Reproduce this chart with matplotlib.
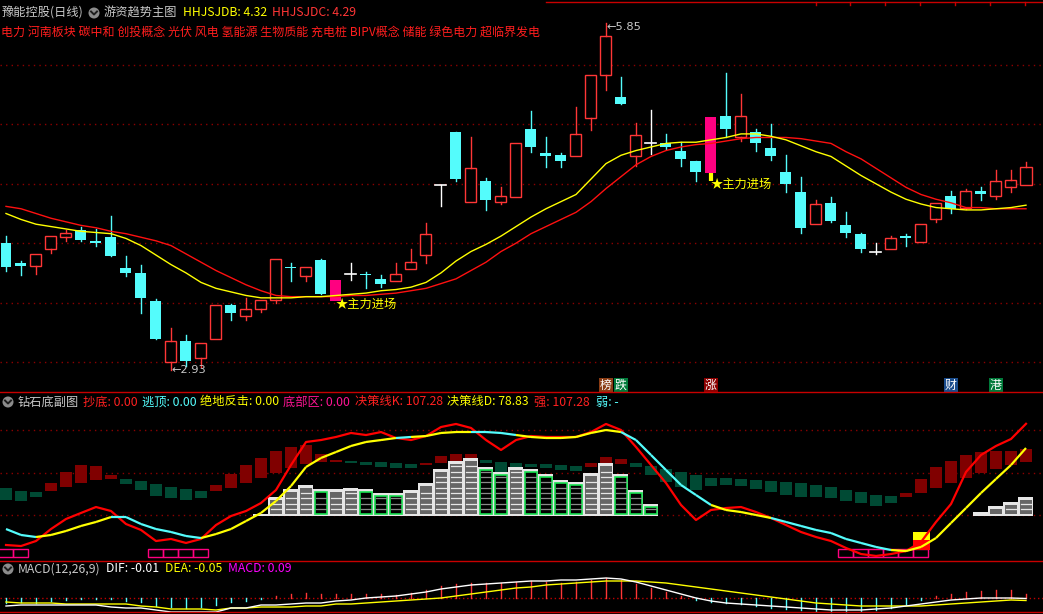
import matplotlib
matplotlib.use('Agg')
import matplotlib.pyplot as plt
from matplotlib.patches import Rectangle, Circle
from matplotlib.lines import Line2D
from matplotlib.transforms import IdentityTransform

plt.rcParams['font.family'] = ['Noto Sans CJK SC', 'DejaVu Sans']
plt.rcParams['lines.scale_dashes'] = False

# ---------------- data ----------------
stock_name = '豫能控股(日线)'
main_title = '游资趋势主图'
concepts = '电力 河南板块 碳中和 创投概念 光伏 风电 氢能源 生物质能 充电桩 BIPV概念 储能 绿色电力 超临界发电'
ma_names = ['HHJSJDB', 'HHJSJDC']
ma_last = [4.32, 4.29]

opens = [4.00, 3.83, 3.81, 3.95, 4.05, 4.11, 4.02, 4.05, 3.79, 3.75,
         3.51, 3.00, 3.18, 3.03, 3.19, 3.48, 3.39, 3.45, 3.52, 3.80,
         3.72, 3.86, 3.51, 3.74, 3.74, 3.70, 3.68, 3.78, 3.90, 4.49,
         4.94, 4.35, 4.52, 4.35, 4.39, 4.96, 4.76, 4.74, 4.73, 5.05,
         5.42, 5.23, 4.73, 4.84, 4.84, 4.78, 4.69, 4.59, 5.07, 4.89,
         4.94, 4.80, 4.60, 4.43, 4.16, 4.34, 4.15, 4.08, 3.93, 3.95,
         4.06, 4.01, 4.20, 4.40, 4.30, 4.44, 4.40, 4.47, 4.49]
highs = [4.06, 3.85, 3.91, 4.06, 4.11, 4.14, 4.12, 4.23, 3.89, 3.82,
         3.53, 3.29, 3.23, 3.16, 3.48, 3.49, 3.54, 3.52, 3.87, 3.83,
         3.80, 3.87, 3.69, 3.83, 3.76, 3.73, 3.83, 3.95, 4.17, 4.49,
         4.94, 4.89, 4.55, 4.47, 4.84, 5.11, 4.89, 4.76, 5.15, 5.42,
         5.85, 5.40, 5.01, 5.12, 4.92, 4.85, 4.69, 5.06, 5.43, 5.26,
         4.96, 5.00, 4.74, 4.56, 4.36, 4.39, 4.26, 4.09, 4.00, 4.06,
         4.08, 4.16, 4.34, 4.44, 4.46, 4.47, 4.62, 4.62, 4.68]
lows = [3.77, 3.73, 3.74, 3.92, 4.02, 4.02, 3.98, 3.89, 3.72, 3.41,
        3.19, 2.93, 2.97, 2.96, 3.19, 3.35, 3.35, 3.42, 3.50, 3.68,
        3.68, 3.57, 3.51, 3.69, 3.62, 3.63, 3.68, 3.78, 3.83, 4.31,
        4.52, 4.35, 4.28, 4.33, 4.39, 4.77, 4.64, 4.64, 4.73, 4.95,
        5.29, 5.17, 4.65, 4.75, 4.79, 4.65, 4.52, 4.52, 4.89, 4.86,
        4.78, 4.70, 4.43, 4.09, 4.16, 4.18, 4.05, 3.93, 3.91, 3.95,
        3.98, 4.01, 4.18, 4.25, 4.29, 4.36, 4.37, 4.43, 4.49]
closes = [3.80, 3.81, 3.91, 4.06, 4.09, 4.03, 4.00, 3.89, 3.75, 3.54,
          3.19, 3.18, 3.01, 3.16, 3.48, 3.41, 3.45, 3.52, 3.87, 3.79,
          3.80, 3.57, 3.69, 3.74, 3.73, 3.66, 3.74, 3.84, 4.08, 4.49,
          4.54, 4.63, 4.36, 4.40, 4.84, 4.81, 4.73, 4.69, 4.92, 5.42,
          5.74, 5.17, 4.91, 4.84, 4.81, 4.71, 4.60, 5.06, 4.96, 5.07,
          4.84, 4.73, 4.50, 4.13, 4.33, 4.19, 4.09, 3.95, 3.93, 4.04,
          4.04, 4.16, 4.34, 4.29, 4.44, 4.41, 4.52, 4.53, 4.64]

ma_yellow = [4.25, 4.20, 4.16, 4.14, 4.12, 4.10, 4.09, 4.08, 4.04, 3.98,
             3.90, 3.82, 3.75, 3.67, 3.62, 3.59, 3.56, 3.54, 3.54, 3.54,
             3.55, 3.55, 3.56, 3.57, 3.58, 3.60, 3.61, 3.63, 3.67, 3.75,
             3.85, 3.93, 3.99, 4.06, 4.14, 4.22, 4.29, 4.35, 4.41, 4.54,
             4.67, 4.74, 4.78, 4.81, 4.84, 4.85, 4.85, 4.87, 4.89, 4.92,
             4.92, 4.90, 4.87, 4.82, 4.77, 4.73, 4.65, 4.57, 4.50, 4.43,
             4.37, 4.33, 4.30, 4.29, 4.28, 4.28, 4.29, 4.30, 4.32]
ma_red = [4.31, 4.29, 4.25, 4.21, 4.18, 4.15, 4.13, 4.10, 4.08, 4.05,
          4.02, 3.98, 3.91, 3.84, 3.77, 3.71, 3.65, 3.60, 3.56, 3.55,
          3.55, 3.55, 3.55, 3.56, 3.56, 3.57, 3.58, 3.60, 3.62, 3.66,
          3.70, 3.77, 3.84, 3.93, 4.00, 4.08, 4.14, 4.20, 4.26, 4.35,
          4.46, 4.56, 4.66, 4.73, 4.78, 4.81, 4.83, 4.84, 4.86, 4.88,
          4.89, 4.89, 4.89, 4.88, 4.86, 4.84, 4.77, 4.71, 4.63, 4.55,
          4.47, 4.41, 4.37, 4.34, 4.30, 4.30, 4.29, 4.29, 4.29]

entry_idx = [22, 47]
entry_label = '主力进场'
high_idx, high_val = 40, 5.85
low_idx, low_val = 11, 2.93
event_idx = [40, 41, 47, 63, 66]
event_text = ['榜', '跌', '涨', '财', '港']
event_bg = ['#8a3c14', '#007a3a', '#8c0000', '#1a4c8c', '#007a3a']

# sub chart 钻石底副图
sub_title = '钻石底副图'
sub_labels = ['抄底: 0.00', '逃顶: 0.00', '绝地反击: 0.00', '底部区: 0.00',
              '决策线K: 107.28', '决策线D: 78.83', '强: 107.28', '弱: -']
line_k = [-35.3, -36.5, -30.6, -16.5, -4.7, 2.4, 9.4, 4.7, -10.6, -17.6,
          -30.6, -28.2, -32.9, -28.2, -11.8, -1.2, 4.7, 14.1, 29.4, 58.8,
          85.9, 88.2, 91.8, 96.5, 94.1, 97.6, 90.6, 88.2, 92.9, 103.5,
          107.1, 102.4, 88.2, 76.5, 88.2, 92.9, 91.8, 91.8, 91.8, 97.6,
          107.1, 100.0, 80.0, 58.8, 37.6, 11.8, -5.9, 5.9, 8.2, 9.4,
          3.5, -3.5, -11.8, -20.0, -25.9, -30.6, -38.8, -45.9, -48.2, -45.9,
          -42.4, -31.8, -8.2, 12.9, 50.6, 70.6, 81.2, 89.4, 107.3]
line_d = [-16.5, -23.5, -25.9, -23.5, -18.8, -12.9, -8.2, -2.4, -2.4, -10.6,
          -16.5, -20.0, -24.7, -27.1, -22.4, -16.5, -7.1, 2.4, 16.5, 34.1,
          56.5, 67.1, 74.1, 81.2, 85.9, 88.2, 90.6, 91.8, 92.9, 96.5,
          97.6, 97.6, 97.6, 96.5, 94.1, 91.8, 90.6, 90.6, 91.8, 96.5,
          100.0, 97.6, 88.2, 70.6, 52.9, 35.3, 23.5, 11.8, 5.9, 3.5,
          0.0, -3.5, -8.2, -12.9, -17.6, -21.2, -28.2, -32.9, -37.6, -41.2,
          -42.4, -37.6, -27.1, -9.4, 8.2, 25.9, 42.4, 58.8, 78.8]
box_top = [31.8, 28.2, 27.1, 37.6, 50.6, 58.8, 57.6, 47.1, 42.4, 40.0,
           36.5, 32.9, 30.6, 28.2, 35.3, 48.2, 58.8, 67.1, 75.3, 80.0,
           82.4, 71.8, 64.7, 63.5, 62.4, 62.4, 61.2, 60.0, 61.2, 69.4,
           71.8, 71.8, 64.7, 62.4, 61.2, 60.0, 60.0, 58.8, 57.6, 61.2,
           68.2, 65.9, 61.2, 57.6, 54.1, 50.6, 47.1, 43.5, 43.5, 42.4,
           41.2, 40.0, 38.8, 37.6, 35.3, 32.9, 29.4, 27.1, 23.5, 22.4,
           25.9, 42.4, 56.5, 63.5, 70.6, 74.1, 75.3, 75.3, 77.6]
box_bot = [17.6, 16.5, 21.2, 28.2, 32.9, 37.6, 41.2, 42.4, 36.5, 29.4,
           22.4, 20.0, 17.6, 20.0, 28.2, 31.8, 37.6, 43.5, 49.4, 55.3,
           60.0, 62.4, 62.4, 61.2, 58.8, 56.5, 55.3, 55.3, 58.8, 61.2,
           62.4, 64.7, 61.2, 50.6, 54.1, 56.5, 55.3, 52.9, 51.8, 56.5,
           58.8, 60.0, 56.5, 47.1, 38.8, 32.9, 29.4, 34.1, 35.3, 34.1,
           30.6, 27.1, 23.5, 21.2, 21.2, 20.0, 16.5, 14.1, 10.6, 14.1,
           21.2, 25.9, 31.8, 37.6, 43.5, 49.4, 54.1, 58.8, 62.4]
box_up = [0, 0, 0, 1, 1, 1, 1, 1, 0, 0,
          0, 0, 0, 0, 1, 1, 1, 1, 1, 1,
          1, 1, 1, 0, 0, 0, 0, 0, 1, 1,
          1, 1, 0, 0, 0, 0, 0, 0, 0, 1,
          1, 1, 0, 0, 0, 0, 0, 0, 0, 0,
          0, 0, 0, 0, 0, 0, 0, 0, 0, 0,
          1, 1, 1, 1, 1, 1, 1, 1, 1]
# stepped "building" columns: index, height, kind (s = slab, w = grey, g = green)
bld_idx = [17, 18, 19, 20, 21, 22, 23, 24, 25, 26, 27, 28, 29, 30, 31,
           32, 33, 34, 35, 36, 37, 38, 39, 40, 41, 42, 43, 65, 66, 67, 68]
bld_top = [1.2, 21.2, 30.6, 35.3, 30.6, 30.6, 31.8, 30.6, 25.9, 25.9, 29.4,
           37.6, 54.1, 63.5, 67.1, 56.5, 50.6, 56.5, 54.1, 48.2, 41.2, 38.8,
           49.4, 61.2, 48.2, 29.4, 12.9, 3.5, 10.6, 15.3, 21.2]
bld_kind = ['s', 'w', 'w', 'w', 'g', 'w', 'w', 'g', 'g', 'g', 'w',
            'w', 'w', 'w', 'w', 'g', 'g', 'w', 'g', 'g', 'g', 'g',
            'w', 'w', 'g', 'g', 'g', 's', 'w', 'w', 'w']
bottom_zone_idx = [0, 1, 10, 11, 12, 13, 56, 57, 58, 59, 60, 61]
rebound_idx = 61

# MACD panel
macd_title = 'MACD(12,26,9)'
macd_labels = ['DIF: -0.01', 'DEA: -0.05', 'MACD: 0.09']
dif = [-0.16, -0.14, -0.14, -0.14, -0.14, -0.14, -0.14, -0.18, -0.20, -0.20,
       -0.24, -0.28, -0.28, -0.28, -0.28, -0.20, -0.20, -0.14, -0.14, -0.12,
       -0.10, -0.10, -0.06, -0.04, 0.00, 0.02, 0.04, 0.08, 0.12, 0.18,
       0.22, 0.26, 0.28, 0.30, 0.32, 0.34, 0.34, 0.36, 0.36, 0.38,
       0.40, 0.38, 0.32, 0.24, 0.16, 0.08, 0.00, -0.06, -0.10, -0.12,
       -0.14, -0.16, -0.18, -0.20, -0.22, -0.24, -0.24, -0.24, -0.22, -0.20,
       -0.16, -0.12, -0.08, -0.04, -0.02, 0.00, 0.00, 0.00, -0.01]
dea = [-0.08, -0.10, -0.10, -0.10, -0.12, -0.12, -0.12, -0.12, -0.12, -0.16,
       -0.18, -0.22, -0.22, -0.22, -0.24, -0.20, -0.20, -0.18, -0.18, -0.18,
       -0.16, -0.16, -0.12, -0.12, -0.10, -0.08, -0.06, -0.04, -0.02, 0.00,
       0.04, 0.08, 0.12, 0.16, 0.20, 0.22, 0.26, 0.28, 0.30, 0.32,
       0.34, 0.34, 0.34, 0.32, 0.30, 0.26, 0.22, 0.18, 0.14, 0.10,
       0.06, 0.02, -0.02, -0.06, -0.10, -0.12, -0.14, -0.16, -0.16, -0.16,
       -0.16, -0.16, -0.14, -0.12, -0.10, -0.08, -0.06, -0.04, -0.05]
macd = [-0.10, -0.07, -0.10, -0.05, -0.03, -0.01, -0.02, -0.01, -0.05, -0.07,
        -0.15, -0.17, -0.19, -0.17, -0.13, -0.07, -0.05, -0.01, 0.05, 0.09,
        0.11, 0.09, 0.09, 0.09, 0.09, 0.09, 0.07, 0.10, 0.16, 0.24,
        0.28, 0.30, 0.30, 0.30, 0.32, 0.34, 0.32, 0.30, 0.32, 0.36,
        0.40, 0.36, 0.28, 0.20, 0.12, 0.04, -0.04, -0.08, -0.10, -0.12,
        -0.16, -0.20, -0.22, -0.24, -0.26, -0.28, -0.28, -0.26, -0.24, -0.20,
        -0.12, -0.04, 0.04, 0.08, 0.12, 0.14, 0.16, 0.16, 0.09]

# ---------------- style ----------------
W, H = 1043, 614
BG = 'black'
RED = '#ff3636'
CYAN = '#54fcfc'
YEL = '#ffff00'
MAG = '#ff0080'
GRID = '#8c0000'
GREY = '#c8c8c8'
FS = 8.8

fig = plt.figure(figsize=(W / 100, H / 100), dpi=100)
fig.patch.set_facecolor(BG)
n = len(closes)
xs = list(range(n))


def make_ax(top, bottom, ylo, yhi):
    ax = fig.add_axes([0, 1 - bottom / H, 1, (bottom - top) / H])
    ax.set_facecolor(BG)
    ax.set_xlim(-0.4, (W - 6) / 15)
    ax.set_ylim(ylo, yhi)
    ax.axis('off')
    return ax


def ftext(x, y, s, color, size=FS, **kw):
    fig.text(x / W, 1 - y / H, s, color=color, fontsize=size, va='center', ha='left', **kw)


def icon(x, y):
    fig.patches.append(Circle((x, H - y), 5.5, transform=IdentityTransform(),
                              facecolor='#8c8c8c', edgecolor='none'))
    fig.lines.append(Line2D([x - 3, x, x + 3], [H - y + 1.5, H - y - 1.5, H - y + 1.5],
                            transform=IdentityTransform(), color='#1e1e1e', lw=1.4))


def hline(y, x0=0, x1=W, color='#c80000'):
    fig.lines.append(Line2D([x0 / W, x1 / W], [1 - y / H, 1 - y / H],
                            transform=fig.transFigure, color=color, lw=1.0))


# ---------------- main panel ----------------
P0, PPU = 3.0, 118.8   # price 3.0 at pixel 362, 118.8 px per unit
ax = make_ax(0, 392, P0 - (392 - 362) / PPU, P0 + 362 / PPU)
for g in [3.0, 3.5, 4.0, 4.5, 5.0, 5.5]:
    ax.axhline(g, color=GRID, lw=1.0, ls=(0, (1, 3)))

bw = 11 / 15
for i in xs:
    o, h, l, c = opens[i], highs[i], lows[i], closes[i]
    if i in entry_idx:
        ax.add_patch(Rectangle((i - bw / 2, min(o, c)), bw, abs(c - o), fc=MAG, ec='none', zorder=3))
        if l < min(o, c):
            ax.plot([i, i], [l, min(o, c)], color=YEL, lw=3, solid_capstyle='butt', zorder=3)
        continue
    if c > o:
        ax.add_patch(Rectangle((i - bw / 2, o), bw, c - o, fc=BG, ec=RED, lw=1.0, zorder=3))
        ax.plot([i, i], [c, h], color=RED, lw=1.0, zorder=3)
        ax.plot([i, i], [l, o], color=RED, lw=1.0, zorder=3)
    elif c < o:
        ax.plot([i, i], [l, h], color=CYAN, lw=1.0, zorder=3)
        ax.add_patch(Rectangle((i - bw / 2, c), bw, max(o - c, 0.012), fc=CYAN, ec='none', zorder=3))
    else:
        ax.plot([i, i], [l, h], color='white', lw=1.0, zorder=3)
        ax.plot([i - bw / 2, i + bw / 2], [c, c], color='white', lw=1.2, zorder=3)

ax.plot(xs, ma_red, color='#ff1010', lw=1.0, zorder=4)
ax.plot(xs, ma_yellow, color=YEL, lw=1.0, zorder=4)

for i in entry_idx:
    ax.text(i - 0.05, lows[i] - 0.025, '★' + entry_label, color=YEL, fontsize=FS,
            va='center', ha='left', zorder=5)
ax.text(high_idx, high_val - 0.03, '←%.2f' % high_val, color=GREY, fontsize=8.2,
        va='center', ha='left', family='DejaVu Sans')
ax.text(low_idx, low_val, '←%.2f' % low_val, color=GREY, fontsize=8.2,
        va='center', ha='left', family='DejaVu Sans')
for i, t, bg in zip(event_idx, event_text, event_bg):
    ax.text(i, P0 - (385 - 362) / PPU, t, color='white', fontsize=8.6, ha='center', va='center',
            bbox=dict(boxstyle='square,pad=0.08', fc=bg, ec='none'), zorder=6)

# headers
icon(94, 13)
ftext(2, 13, stock_name, GREY)
ftext(104, 13, main_title, GREY)
ftext(183, 13, '%s: %.2f' % (ma_names[0], ma_last[0]), YEL)
ftext(272, 13, '%s: %.2f' % (ma_names[1], ma_last[1]), RED)
ftext(1, 32, concepts, '#ff1e1e', size=8.65)
hline(2, 546, W)
for tx in [816, 850, 885, 920, 955, 990, 1025]:
    fig.lines.append(Line2D([tx / W, tx / W], [1 - 2 / H, 1 - 5 / H], transform=fig.transFigure,
                            color='#c80000', lw=1.0))

# ---------------- sub panel ----------------
S0, SPU = 515, 0.85
ax2 = make_ax(392, 560, (S0 - 560) / SPU, (S0 - 392) / SPU)
for g in [0, 50, 100]:
    ax2.axhline(g, color=GRID, lw=1.0, ls=(0, (1, 3)), zorder=1)

for i in xs:
    col = '#800000' if box_up[i] else '#004a34'
    ax2.add_patch(Rectangle((i - 0.43, box_bot[i]), 0.86, box_top[i] - box_bot[i],
                            fc=col, ec='none', zorder=2))

base = -1.2
for i, top, kind in zip(bld_idx, bld_top, bld_kind):
    ax2.add_patch(Rectangle((i - 0.5, base), 1.0, top - base, fc='#e6e6e6', ec='none', zorder=3))
    if kind == 's':
        continue
    itop, ibot = top - 3.5, base + 1.8
    if itop - ibot < 1:
        continue
    green = kind == 'g'
    ax2.add_patch(Rectangle((i - 0.38, ibot), 0.76, itop - ibot,
                            fc=('black' if green else '#666666'),
                            ec=('#18e050' if green else 'none'), lw=1.2, zorder=4))
    s = ibot + 6.3
    while s < itop - 2.0:
        ax2.plot([i - 0.32, i + 0.32], [s, s], color=('#8a8a8a' if green else '#e6e6e6'),
                 lw=0.9, zorder=5)
        s += 6.3

for i in bottom_zone_idx:
    ax2.add_patch(Rectangle((i - 0.5, -49.4), 1.0, 9.4, fc='none', ec=MAG, lw=1.0, zorder=3))
ax2.add_patch(Rectangle((rebound_idx - 0.5, -41.2), 1.1, 11.8, fc='#ff0000', ec='none', zorder=4))
ax2.add_patch(Rectangle((rebound_idx - 0.5, -29.4), 1.1, 9.4, fc=YEL, ec='none', zorder=4))

ax2.plot(xs, line_k, color='#ff0000', lw=1.6, zorder=6)
for j in range(n - 1):
    col = YEL if line_k[j + 1] >= line_d[j + 1] else CYAN
    ax2.plot([j, j + 1], [line_d[j], line_d[j + 1]], color=col, lw=1.6, zorder=6,
             solid_capstyle='butt')

icon(8, 402)
ftext(18, 402, sub_title, GREY)
sub_x = [83, 142, 200, 283, 355, 447, 534, 596]
sub_c = ['#ff2020', CYAN, YEL, '#ff1493', '#ff2020', YEL, '#ff2020', CYAN]
for x, s, c in zip(sub_x, sub_labels, sub_c):
    ftext(x, 402, s, c)

# ---------------- MACD panel ----------------
M0, MPU = 598, 50.0
ax3 = make_ax(560, 614, -(614 - M0) / MPU, (M0 - 560) / MPU)
ax3.axhline(0, color='#c00000', lw=1.0, ls=(0, (1, 2)))
for i in xs:
    v = macd[i]
    ax3.plot([i, i], [0, v], color=(RED if v > 0 else CYAN), lw=1.0)
ax3.plot(xs, dea, color=YEL, lw=1.0)
ax3.plot(xs, dif, color='white', lw=1.0)
icon(8, 569)
ftext(18, 569, macd_title, GREY)
for x, s, c in zip([106, 165, 228], macd_labels, ['white', YEL, '#ff00ff']):
    ftext(x, 569, s, c)

hline(392)
hline(561)
hline(612)

fig.savefig('out.png', dpi=100, facecolor=BG)
